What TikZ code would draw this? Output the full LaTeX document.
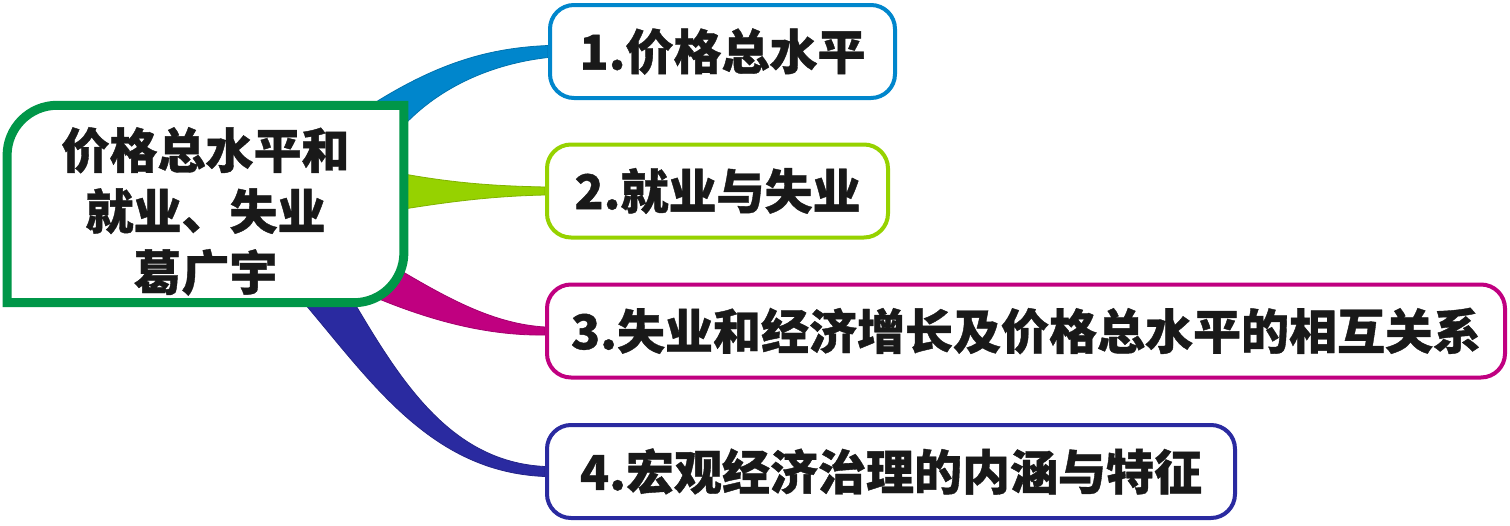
\documentclass[tikz,border=0pt]{standalone}
\usepackage{fontspec}
\newfontfamily\cjk{Noto Sans CJK SC}[BoldFeatures={FakeBold=0.8}]
\usetikzlibrary{calc,backgrounds}
\definecolor{hubgreen}{RGB}{0,150,72}
\definecolor{cone}{RGB}{0,134,204}
\definecolor{ctwo}{RGB}{150,210,0}
\definecolor{cthree}{RGB}{192,0,128}
\definecolor{cfour}{RGB}{42,42,160}
\tikzset{
  topic/.style={draw=#1, line width=2pt, rounded corners=12pt, fill=white,
    minimum height=46.5pt, text=black!90,
    font=\cjk\bfseries\fontsize{24pt}{30pt}\selectfont},
  branch/.style={fill=#1, draw=#1!85!black, line width=0.4pt},
}
\begin{document}
\begin{tikzpicture}[x=0.5pt,y=-0.5pt]
    \useasboundingbox (0,0) rectangle (1510,525);% size of the reference in px
    \node[align=center, minimum width=198pt, minimum height=94.5pt, text=black!90,
      font=\cjk\bfseries\fontsize{24pt}{30.5pt}\selectfont] (hub) at (205.5,204)
      {\rule{0pt}{28pt}价格总水平和\\就业、失业\\葛广宇};
    \node[topic=cone, minimum width=172.5pt] (t1) at (722.5,51.5) {1.价格总水平};
    \node[topic=ctwo, minimum width=170.5pt] (t2) at (717.5,191) {2.就业与失业};
    \node[topic=cthree, minimum width=479pt] (t3) at (1026,331) {3.失业和经济增长及价格总水平的相互关系};
    \node[topic=cfour, minimum width=344pt] (t4) at (891,471.5) {4.宏观经济治理的内涵与特征};
    \begin{scope}[on background layer]
      % tapering branches, widest at the hub
      \filldraw[branch=cone] ($(hub.north east)+(-30,-2)$)
        .. controls (440,62) and (490,48) .. ($(t1.west)+(0,-6)$)
        -- ($(t1.west)+(0,6)$)
        .. controls (490,64) and (440,88) .. ($(hub.north east)+(2,18)$) -- cycle;
      \filldraw[branch=ctwo] ($(hub.east)+(0,-30)$)
        .. controls (460,184) and (500,186) .. ($(t2.west)+(0,-4)$)
        -- ($(t2.west)+(0,4)$)
        .. controls (500,196) and (460,200) .. ($(hub.east)+(0,5)$) -- cycle;
      \filldraw[branch=cthree] ($(hub.south east)+(-8,-35)$)
        .. controls (450,300) and (495,324) .. ($(t3.west)+(0,-4)$)
        -- ($(t3.west)+(0,4)$)
        .. controls (480,336) and (420,316) .. ($(hub.south east)+(-28,-5)$) -- cycle;
      \filldraw[branch=cfour] ($(hub.south east)+(-52,-4)$)
        .. controls (400,380) and (450,462) .. ($(t4.west)+(0,-5)$)
        -- ($(t4.west)+(0,5)$)
        .. controls (430,472) and (370,380) .. ($(hub.south)+(95,-4)$) -- cycle;
      % hub outline: round corners top left and bottom right only
      \draw[hubgreen, line width=4.5pt, fill=white] (hub.south west)
        -- ($(hub.north west)+(0,50)$) arc[start angle=180, end angle=90, radius=25pt]
        -- (hub.north east)
        -- ($(hub.south east)+(0,-50)$) arc[start angle=0, end angle=-90, radius=25pt]
        -- cycle;
    \end{scope}
\end{tikzpicture}
\end{document}
